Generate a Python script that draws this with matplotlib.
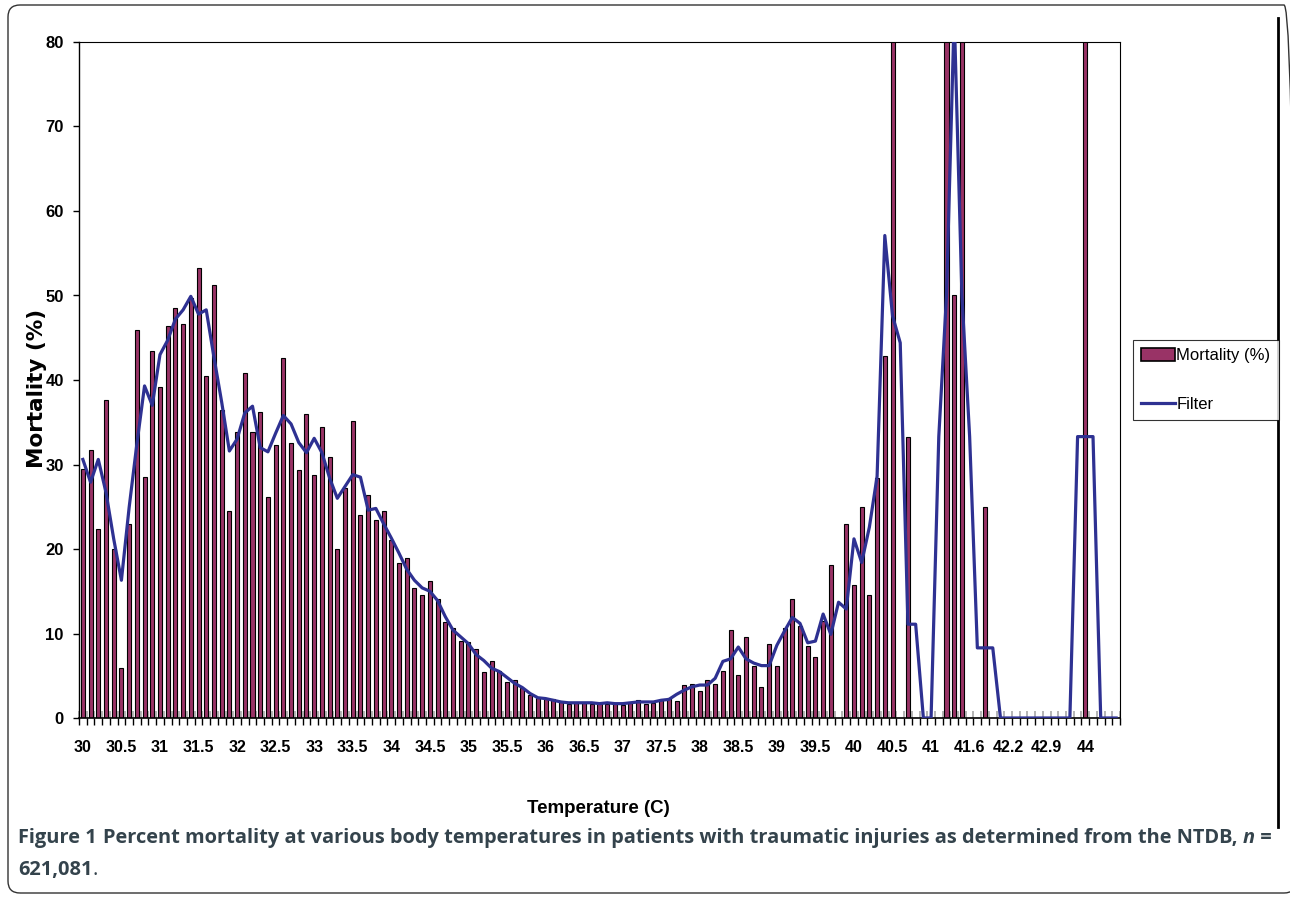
import matplotlib
matplotlib.use("Agg")
import matplotlib.pyplot as plt
from matplotlib.patches import FancyBboxPatch, Patch
from matplotlib.lines import Line2D
from matplotlib.transforms import IdentityTransform

# temperature categories (C) as shown on the axis
temps = [
    30.0, 30.1, 30.2, 30.3, 30.4, 30.5, 30.6, 30.7, 30.8, 30.9,
    31.0, 31.1, 31.2, 31.3, 31.4, 31.5, 31.6, 31.7, 31.8, 31.9,
    32.0, 32.1, 32.2, 32.3, 32.4, 32.5, 32.6, 32.7, 32.8, 32.9,
    33.0, 33.1, 33.2, 33.3, 33.4, 33.5, 33.6, 33.7, 33.8, 33.9,
    34.0, 34.1, 34.2, 34.3, 34.4, 34.5, 34.6, 34.7, 34.8, 34.9,
    35.0, 35.1, 35.2, 35.3, 35.4, 35.5, 35.6, 35.7, 35.8, 35.9,
    36.0, 36.1, 36.2, 36.3, 36.4, 36.5, 36.6, 36.7, 36.8, 36.9,
    37.0, 37.1, 37.2, 37.3, 37.4, 37.5, 37.6, 37.7, 37.8, 37.9,
    38.0, 38.1, 38.2, 38.3, 38.4, 38.5, 38.6, 38.7, 38.8, 38.9,
    39.0, 39.1, 39.2, 39.3, 39.4, 39.5, 39.6, 39.7, 39.8, 39.9,
    40.0, 40.1, 40.2, 40.3, 40.4, 40.5, 40.6, 40.7, 40.8, 40.9,
    41.0, 41.1, 41.2, 41.3, 41.4, 41.6, 41.7, 41.8, 41.9, 42.0,
    42.2, 42.3, 42.4, 42.6, 42.7, 42.9, 43.0, 43.2, 43.4, 43.7,
    44.0, 44.2, 44.4, 44.8, 45.0,
]

# mortality (%) per temperature
mortality = [
    29.5, 31.7, 22.4, 37.6, 20.0, 5.9, 22.9, 45.9, 28.5, 43.4,
    39.2, 46.4, 48.5, 46.6, 49.7, 53.3, 40.5, 51.2, 36.5, 24.5,
    33.8, 40.8, 33.8, 36.2, 26.1, 32.3, 42.6, 32.5, 29.3, 36.0,
    28.8, 34.4, 30.9, 20.0, 27.2, 35.1, 24.0, 26.4, 23.4, 24.5,
    21.1, 18.4, 18.9, 15.4, 14.6, 16.2, 14.1, 11.4, 10.6, 9.1,
    9.0, 8.2, 5.4, 6.7, 5.6, 4.3, 4.5, 3.6, 2.7, 2.4,
    2.2, 2.2, 1.9, 1.7, 1.8, 1.8, 1.7, 1.8, 1.7, 1.8,
    1.5, 1.8, 2.1, 1.7, 1.8, 2.1, 2.4, 2.0, 3.9, 4.0,
    3.2, 4.5, 4.0, 5.6, 10.4, 5.1, 9.6, 6.2, 3.7, 8.8,
    6.2, 10.7, 14.1, 10.9, 8.5, 7.2, 11.5, 18.1, 0, 22.9,
    15.7, 25.0, 14.5, 28.4, 42.8, 100, 0, 33.3, 0, 0,
    0, 0, 100, 50, 100, 0, 0, 25, 0, 0,
    0, 0, 0, 0, 0, 0, 0, 0, 0, 0,
    100, 0, 0, 0, 0,
]

# "Filter" line (smoothed mortality)
filt = [
    30.6, 27.9, 30.6, 26.7, 21.2, 16.3, 24.9, 32.4, 39.3, 37.0,
    43.0, 44.7, 47.2, 48.3, 49.9, 47.8, 48.3, 42.7, 37.4, 31.6,
    33.0, 36.1, 36.9, 32.0, 31.5, 33.7, 35.8, 34.8, 32.6, 31.4,
    33.1, 31.4, 28.4, 26.0, 27.4, 28.8, 28.5, 24.6, 24.8, 23.0,
    21.3, 19.5, 17.6, 16.3, 15.4, 15.0, 13.9, 12.0, 10.4, 9.6,
    8.8, 7.5, 6.8, 5.9, 5.5, 4.8, 4.1, 3.6, 2.9, 2.4,
    2.3, 2.1, 1.9, 1.8, 1.8, 1.8, 1.8, 1.7, 1.8, 1.7,
    1.7, 1.8, 1.9, 1.9, 1.9, 2.1, 2.2, 2.8, 3.3, 3.7,
    3.9, 3.9, 4.7, 6.7, 7.0, 8.4, 7.0, 6.5, 6.2, 6.2,
    8.6, 10.3, 11.9, 11.2, 8.9, 9.1, 12.3, 9.9, 13.7, 12.9,
    21.2, 18.4, 22.6, 28.6, 57.1, 47.6, 44.4, 11.1, 11.1, 0,
    0, 33.3, 50.0, 83.3, 50.0, 33.3, 8.3, 8.3, 8.3, 0,
    0, 0, 0, 0, 0, 0, 0, 0, 0, 33.3,
    33.3, 33.3, 0, 0, 0,
]

sans = ["Liberation Sans", "DejaVu Sans"]
bar_color = "#993366"
line_color = "#2e3192"

W, H = 1290, 897
fig = plt.figure(figsize=(W / 100, H / 100), dpi=100)
ax = fig.add_axes([79 / W, 1 - 718 / H, (1120 - 79) / W, (718 - 42) / H])

pos = list(range(len(temps)))
ax.bar(pos, mortality, width=0.52, color=bar_color, edgecolor="black",
       linewidth=0.8, zorder=2, label="Mortality (%)")
ax.plot(pos, filt, color=line_color, linewidth=2.3, zorder=3, label="Filter")

ax.set_xlim(-0.5, len(temps) - 0.5)
ax.set_ylim(0, 80)

# y axis
ax.set_yticks(range(0, 81, 10))
ax.tick_params(axis="y", direction="out", length=4, width=1, pad=7)
for lab in ax.get_yticklabels():
    lab.set_family(sans)
    lab.set_fontweight("bold")
    lab.set_fontsize(12)

# x axis: label every 5th category, small ticks between categories
ax.set_xticks(pos[::5])
ax.set_xticklabels([f"{t:g}" for t in temps[::5]], family=sans,
                   fontweight="bold", fontsize=11.5)
ax.tick_params(axis="x", which="major", length=0, pad=16)
bounds = [p - 0.5 for p in pos] + [pos[-1] + 0.5]
ax.set_xticks(bounds, minor=True)
ax.tick_params(axis="x", which="minor", direction="out", length=5, width=1)

sec = ax.secondary_xaxis("bottom")
sec.set_xticks(bounds)
sec.tick_params(direction="in", length=5, width=1.2, color="#a8a8a8",
                labelbottom=False)
sec.spines["bottom"].set_visible(False)

for side in ["top", "right"]:
    ax.spines[side].set_linewidth(0.8)
ax.spines["left"].set_linewidth(1)
ax.spines["bottom"].set_linewidth(1.2)

fig.text(37 / W, 1 - 388 / H, "Mortality (%)", rotation=90, ha="center",
         va="center", fontsize=15.5, fontweight="bold", family="DejaVu Sans")
fig.text(598 / W, 1 - 808 / H, "Temperature (C)", ha="center", va="center",
         fontsize=13.5, fontweight="bold", family=sans)

handles = [Patch(facecolor=bar_color, edgecolor="black", linewidth=1.2),
           Line2D([0], [0], color=line_color, linewidth=2.3)]
leg = fig.legend(handles, ["Mortality (%)", "Filter"], loc="center left",
                 bbox_to_anchor=(1133 / W, 1 - 380 / H), frameon=True,
                 fancybox=False, prop={"family": sans, "size": 12},
                 handlelength=2.0, handleheight=0.75, handletextpad=0.1,
                 borderpad=0.5, labelspacing=2.0, borderaxespad=0)
leg.get_frame().set_edgecolor("black")
leg.get_frame().set_linewidth(0.8)

# caption
cap_color = "#34434c"
cap_size = 14.4
y1 = 1 - 843 / H
y2 = 1 - 875 / H
fig.canvas.draw()
r = fig.canvas.get_renderer()
t1 = fig.text(18 / W, y1, "Figure 1", fontsize=cap_size,
              fontweight="bold", family="Open Sans", color=cap_color)
x_next = t1.get_window_extent(r).x1
t2 = fig.text((x_next + 6) / W, y1,
              "Percent mortality at various body temperatures in patients "
              "with traumatic injuries as determined from the NTDB, ",
              fontsize=cap_size, fontweight="bold", family="Open Sans",
              color=cap_color)
x_next = t2.get_window_extent(r).x1
t3 = fig.text(x_next / W, y1, "n", fontsize=cap_size, style="italic",
              fontweight="bold", family="Open Sans", color=cap_color)
x_next = t3.get_window_extent(r).x1
fig.text(x_next / W, y1, " =", fontsize=cap_size, fontweight="bold",
         family="Open Sans", color=cap_color)
t5 = fig.text(18 / W, y2, "621,081", fontsize=cap_size,
              fontweight="bold", family="Open Sans", color=cap_color)
x_next = t5.get_window_extent(r).x1
fig.text(x_next / W, y2, ".", fontsize=cap_size, family="Open Sans",
         color=cap_color)

# frame around the figure panel (right side runs off the page)
box = FancyBboxPatch((8, 4), 1288, 888, boxstyle="round,pad=0,rounding_size=12",
                     transform=IdentityTransform(), fill=False,
                     edgecolor="#333333", linewidth=1.0)
fig.add_artist(box)
fig.add_artist(Line2D([1278, 1278], [70, 879], transform=IdentityTransform(),
                      color="black", linewidth=2))

fig.savefig("out.png", dpi=100)
